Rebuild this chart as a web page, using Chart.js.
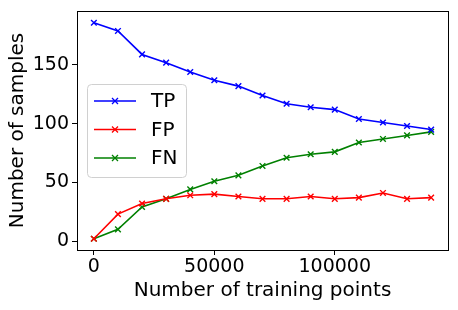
<!DOCTYPE html>
<html>
<head>
<meta charset="utf-8">
<script src="https://cdn.jsdelivr.net/npm/chart.js@4"></script>
<style>
  html, body { margin: 0; padding: 0; background: #fff; }
  #wrap { width: 458px; height: 310px; }
</style>
</head>
<body>
<div id="wrap"><canvas id="chart" width="458" height="310"></canvas></div>
<script>
// data
const trainingPoints = [0, 10000, 20000, 30000, 40000, 50000, 60000, 70000, 80000, 90000, 100000, 110000, 120000, 130000, 140000];
const tpValues = [186, 179, 159, 152, 144, 137, 132, 124, 117, 114, 112, 104, 101, 98, 95];
const fpValues = [2, 23, 32, 36, 39, 40, 38, 36, 36, 38, 36, 37, 41, 36, 37];
const fnValues = [2, 10, 29, 36, 44, 51, 56, 64, 71, 74, 76, 84, 87, 90, 93];
const xTicks = [0, 50000, 100000];
const yTicks = [0, 50, 100, 150];

const FONT = "'DejaVu Sans', sans-serif";

function series(label, values, color) {
  return {
    label: label,
    data: trainingPoints.map((x, i) => ({ x: x, y: values[i] })),
    borderColor: color,
    backgroundColor: color,
    borderWidth: 1.6,
    pointStyle: 'crossRot',
    pointRadius: 4,
    pointBorderWidth: 1.4,
    pointHoverRadius: 4,
    tension: 0
  };
}

// frame round the plot area
const framePlugin = {
  id: 'frame',
  afterDraw(chart) {
    const a = chart.chartArea, ctx = chart.ctx;
    ctx.save();
    ctx.strokeStyle = '#000';
    ctx.lineWidth = 1;
    ctx.strokeRect(Math.round(a.left) + 0.5, Math.round(a.top) + 0.5,
      Math.round(a.right - a.left), Math.round(a.bottom - a.top));
    ctx.restore();
  }
};

// matplotlib style legend inside the plot
const legendPlugin = {
  id: 'mplLegend',
  afterDraw(chart) {
    const ctx = chart.ctx;
    const a = chart.chartArea;
    const x0 = a.left + 10, y0 = 84, w = 99, h = 93;
    ctx.save();
    ctx.fillStyle = 'rgba(255,255,255,0.8)';
    ctx.strokeStyle = '#d0d0d0';
    ctx.lineWidth = 1;
    ctx.beginPath();
    ctx.roundRect(x0 + 0.5, y0 + 0.5, w, h, 4);
    ctx.fill();
    ctx.stroke();
    ctx.font = '20px ' + FONT;
    ctx.textBaseline = 'middle';
    chart.data.datasets.forEach((ds, i) => {
      const cy = y0 + 17 + i * 28.5;
      ctx.strokeStyle = ds.borderColor;
      ctx.lineWidth = 1.6;
      ctx.beginPath();
      ctx.moveTo(x0 + 7, cy);
      ctx.lineTo(x0 + 49, cy);
      ctx.stroke();
      ctx.lineWidth = 1.3;
      ctx.beginPath();
      ctx.moveTo(x0 + 25, cy - 3); ctx.lineTo(x0 + 31, cy + 3);
      ctx.moveTo(x0 + 31, cy - 3); ctx.lineTo(x0 + 25, cy + 3);
      ctx.stroke();
      ctx.fillStyle = '#000';
      ctx.fillText(ds.label, x0 + 64, cy + 1);
    });
    ctx.restore();
  }
};

new Chart(document.getElementById("chart"), {
  type: 'line',
  data: {
    datasets: [
      series('TP', tpValues, '#0000ff'),
      series('FP', fpValues, '#ff0000'),
      series('FN', fnValues, '#008000')
    ]
  },
  options: {
    responsive: false,
    animation: false,
    layout: { padding: { top: 11, right: 10, left: 0, bottom: 0 } },
    plugins: { legend: { display: false }, tooltip: { enabled: false } },
    scales: {
      x: {
        type: 'linear',
        min: -7000,
        max: 147000,
        afterBuildTicks: s => { s.ticks = xTicks.map(v => ({ value: v })); },
        afterFit: s => { s.height = 60; },
        ticks: { color: '#000', font: { family: FONT, size: 19 }, padding: 1, maxRotation: 0,
          callback: v => String(v) },
        grid: { drawOnChartArea: false, tickLength: 5, color: '#000', tickColor: '#000' },
        border: { color: '#000' },
        title: { display: true, text: 'Number of training points', color: '#000',
          font: { family: FONT, size: 20 }, padding: { top: 0, bottom: 7 } }
      },
      y: {
        min: -7.6,
        max: 196,
        afterBuildTicks: s => { s.ticks = yTicks.map(v => ({ value: v })); },
        afterFit: s => { s.width = 77; s.paddingTop = 0; s.paddingBottom = 0; },
        ticks: { color: '#000', font: { family: FONT, size: 19 }, padding: 3 },
        grid: { drawOnChartArea: false, tickLength: 5, color: '#000', tickColor: '#000' },
        border: { color: '#000' },
        title: { display: true, text: 'Number of samples', color: '#000',
          font: { family: FONT, size: 20 }, padding: { top: 6, bottom: 2 } }
      }
    }
  },
  plugins: [framePlugin, legendPlugin]
});
</script>
</body>
</html>
